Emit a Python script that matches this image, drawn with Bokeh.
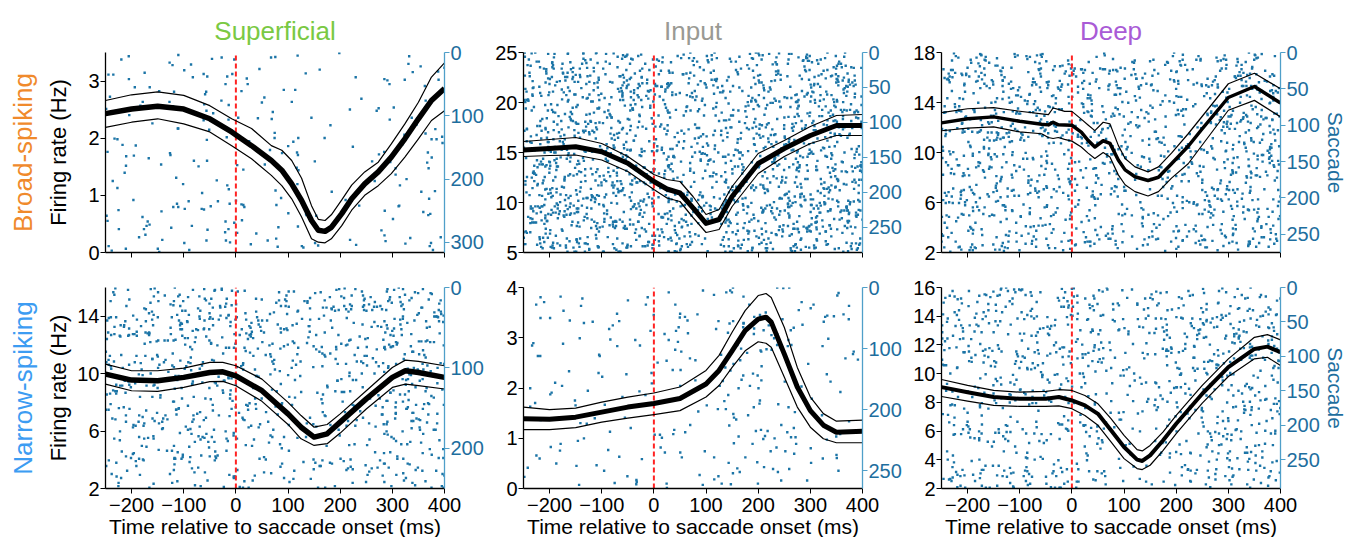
from bokeh.plotting import figure
from bokeh.layouts import column, row
from bokeh.models import Range1d, LinearAxis, FixedTicker, Title
from bokeh.embed import file_html
from bokeh.resources import INLINE

FONT = "Liberation Sans"

# ---------------- data ----------------
col_titles = ["Superficial", "Input", "Deep"]
row_titles = ["Broad-spiking", "Narrow-spiking"]
x_ticks = [-200, -100, 0, 100, 200, 300, 400]
x_label = "Time relative to saccade onset (ms)"
y_label = "Firing rate (Hz)"
trial_label = "Saccade"

# Superficial, broad-spiking
t1 = [-250, -200, -150, -100, -50, -8, 30, 68, 88, 107, 126, 145, 158, 171, 183, 203, 222, 247, 273, 298, 324, 350, 375, 400]
m1 = [2.43, 2.51, 2.56, 2.51, 2.34, 2.11, 1.87, 1.61, 1.44, 1.20, 0.91, 0.56, 0.39, 0.37, 0.44, 0.68, 0.94, 1.20, 1.41, 1.67, 1.99, 2.34, 2.66, 2.87]
u1 = [2.66, 2.76, 2.81, 2.75, 2.57, 2.34, 2.17, 1.87, 1.79, 1.61, 1.30, 0.82, 0.58, 0.56, 0.66, 0.92, 1.18, 1.41, 1.58, 1.90, 2.25, 2.63, 3.07, 3.32]
l1 = [2.19, 2.28, 2.34, 2.25, 2.11, 1.87, 1.64, 1.35, 1.17, 0.94, 0.62, 0.24, 0.18, 0.17, 0.24, 0.47, 0.74, 1.00, 1.17, 1.38, 1.67, 1.99, 2.31, 2.48]

# Input, broad-spiking
t2 = [-250, -200, -150, -100, -50, 0, 25, 50, 75, 100, 125, 150, 200, 250, 300, 350, 400]
m2 = [15.25, 15.41, 15.58, 15.08, 13.93, 12.1, 11.35, 10.95, 9.46, 7.91, 8.3, 10.6, 13.9, 15.4, 16.7, 17.7, 17.7]
u2 = [16.1, 16.3, 16.5, 15.9, 14.6, 12.8, 12.3, 12.1, 10.6, 8.8, 9.3, 11.6, 14.9, 16.2, 17.6, 18.7, 18.8]
l2 = [14.6, 14.7, 14.75, 14.25, 13.1, 11.3, 10.45, 10.1, 8.5, 7.0, 7.3, 9.6, 12.9, 14.6, 15.9, 16.7, 16.7]

# Deep, broad-spiking
t3 = [-250, -200, -150, -100, -58, -45, -36, -26, -14, 0, 18, 31, 44, 60, 73, 89, 102, 121, 146, 166, 191, 223, 250, 300, 350, 400]
m3 = [12.37, 12.7, 12.85, 12.5, 12.26, 12.21, 12.42, 12.21, 12.2, 12.18, 11.63, 10.97, 10.44, 10.94, 10.73, 9.40, 8.61, 8.06, 7.76, 8.02, 9.1, 10.5, 11.9, 14.4, 15.28, 13.96]
u3 = [13.19, 13.5, 13.59, 13.3, 13.09, 13.03, 13.56, 13.45, 13.29, 13.29, 12.67, 12.2, 11.75, 12.42, 12.29, 10.57, 9.52, 8.85, 8.45, 8.85, 9.95, 11.5, 12.9, 15.5, 16.34, 15.1]
l3 = [11.74, 11.95, 12.05, 11.65, 11.5, 11.2, 11.12, 11.2, 11.05, 10.91, 10.44, 9.95, 9.52, 10.0, 9.64, 8.21, 7.42, 6.87, 6.52, 6.87, 7.95, 9.1, 10.6, 13.38, 14.17, 12.85]

# Superficial, narrow-spiking
t4 = [-250, -200, -150, -100, -50, -25, 0, 50, 100, 125, 150, 175, 200, 250, 300, 325, 350, 400]
m4 = [9.97, 9.55, 9.5, 9.74, 10.08, 10.13, 9.85, 8.81, 7.2, 6.27, 5.58, 5.81, 6.62, 8.24, 9.74, 10.2, 10.08, 9.74]
u4 = [10.66, 10.2, 10.2, 10.38, 10.78, 10.78, 10.55, 9.62, 8.0, 7.08, 6.27, 6.46, 7.2, 8.81, 10.43, 10.94, 10.85, 10.55]
l4 = [9.27, 8.81, 8.77, 9.04, 9.44, 9.46, 9.16, 8.07, 6.46, 5.46, 5.0, 5.12, 5.86, 7.54, 9.04, 9.27, 9.16, 8.93]

# Input, narrow-spiking
t5 = [-250, -200, -150, -100, -50, 0, 50, 100, 125, 150, 175, 200, 215, 225, 250, 275, 300, 325, 350, 400]
m5 = [1.39, 1.38, 1.42, 1.52, 1.62, 1.69, 1.79, 2.08, 2.35, 2.74, 3.14, 3.37, 3.41, 3.31, 2.68, 2.02, 1.55, 1.26, 1.12, 1.14]
u5 = [1.62, 1.57, 1.6, 1.72, 1.82, 1.9, 2.02, 2.35, 2.65, 3.11, 3.54, 3.84, 3.88, 3.8, 3.21, 2.41, 1.82, 1.49, 1.34, 1.36]
l5 = [1.17, 1.17, 1.21, 1.32, 1.4, 1.47, 1.55, 1.82, 2.05, 2.41, 2.74, 2.92, 2.89, 2.81, 2.22, 1.62, 1.22, 0.99, 0.91, 0.91]

# Deep, narrow-spiking
t6 = [-250, -200, -150, -100, -50, -25, 0, 25, 50, 75, 100, 125, 135, 150, 175, 200, 250, 300, 350, 375, 400]
m6 = [9.06, 8.71, 8.37, 8.25, 8.25, 8.37, 8.13, 7.79, 7.2, 6.05, 4.89, 4.01, 3.92, 4.31, 5.36, 6.51, 8.6, 10.45, 11.72, 11.88, 11.49]
u6 = [9.59, 9.18, 8.83, 8.71, 8.76, 8.88, 8.83, 8.48, 7.9, 6.86, 5.7, 4.71, 4.62, 5.0, 5.94, 7.09, 9.18, 11.03, 12.53, 12.72, 12.35]
l6 = [8.41, 8.09, 7.79, 7.72, 7.72, 7.75, 7.56, 7.09, 6.4, 5.24, 4.08, 3.39, 3.32, 3.62, 4.66, 5.82, 7.95, 9.8, 11.03, 11.14, 10.56]

# firing-rate axis ranges / ticks
rate_ranges = [(0, 3.5), (5, 25), (2, 18), (2, 16), (0, 4), (2, 16)]
rate_ticks = [[0, 1, 2, 3], [5, 10, 15, 20, 25], [2, 6, 10, 14, 18],
              [2, 6, 10, 14], [0, 1, 2, 3, 4], [2, 4, 6, 8, 10, 12, 14, 16]]
# trial (saccade) axis: number of trials shown, ticks, labels
trial_max = [316, 286, 275, 250, 329, 292]
trial_ticks = [[0, 100, 200, 300], [0, 50, 100, 150, 200, 250], [0, 50, 100, 150, 200, 250],
               [0, 100, 200], [0, 100, 200, 300], [0, 50, 100, 150, 200, 250]]
trial_tick_labels = [["0", "100", "200", "300"], ["0", "50", "100", "150", "200", "250"],
                     ["0", "50", "100", "150", "200", "250"], ["0", "100", "200"],
                     ["0", "100", "200", "250"], ["0", "50", "100", "150", "200", "250"]]

# raster spike counts: 4 trial bands x 13 time bins of 50 ms
raster_counts = [
    [[6, 4, 6, 7, 7, 5, 4, 4, 2, 2, 3, 4, 6],
     [6, 4, 4, 5, 4, 3, 5, 5, 2, 2, 4, 6, 8],
     [5, 3, 5, 5, 4, 3, 4, 4, 2, 1, 5, 4, 6],
     [7, 7, 8, 8, 8, 7, 5, 6, 4, 3, 4, 5, 7]],
    [[38, 40, 38, 36, 36, 32, 30, 28, 28, 34, 36, 38, 40],
     [34, 36, 36, 34, 32, 28, 26, 26, 30, 32, 36, 38, 38],
     [38, 40, 40, 38, 36, 32, 30, 30, 32, 36, 40, 40, 40],
     [44, 44, 42, 42, 40, 36, 34, 34, 36, 42, 44, 44, 44]],
    [[28, 30, 30, 28, 28, 25, 25, 21, 21, 25, 28, 32, 30],
     [30, 30, 30, 28, 28, 25, 23, 21, 18, 25, 30, 34, 32],
     [28, 28, 28, 25, 25, 23, 21, 18, 18, 23, 28, 32, 30],
     [25, 25, 25, 23, 23, 21, 18, 16, 18, 23, 25, 28, 28]],
    [[24, 24, 24, 26, 26, 24, 20, 18, 20, 22, 26, 26, 24],
     [20, 20, 20, 22, 22, 18, 16, 14, 16, 20, 24, 24, 22],
     [18, 18, 20, 20, 18, 16, 12, 10, 12, 16, 20, 22, 20],
     [14, 14, 16, 16, 14, 12, 10, 8, 10, 12, 16, 18, 16]],
    [[4, 4, 4, 4, 5, 6, 6, 8, 10, 10, 6, 6, 5],
     [4, 4, 4, 4, 4, 6, 6, 6, 10, 10, 6, 4, 4],
     [4, 4, 4, 4, 3, 5, 5, 6, 8, 8, 6, 3, 3],
     [4, 4, 5, 5, 4, 4, 5, 6, 8, 8, 5, 4, 3]],
    [[22, 22, 22, 22, 22, 22, 18, 16, 20, 22, 26, 26, 24],
     [20, 20, 20, 20, 20, 20, 16, 14, 18, 22, 26, 26, 24],
     [18, 18, 18, 18, 18, 16, 12, 8, 12, 18, 22, 24, 22],
     [18, 18, 18, 18, 18, 14, 10, 8, 12, 16, 20, 22, 20]],
]

curves = [(t1, m1, u1, l1), (t2, m2, u2, l2), (t3, m3, u3, l3),
          (t4, m4, u4, l4), (t5, m5, u5, l5), (t6, m6, u6, l6)]

# ---------------- styles ----------------
COL_COLORS = ["#7AC943", "#9A9A94", "#A95BD6"]
ROW_COLORS = ["#F08A2C", "#3C9CF2"]
BLUE_TXT = "#1E6E9E"
BLUE_AX = "#4F9FC9"
DOT = "#1B74A6"
MEAN_WIDTHS = [5.5, 5, 3.5, 5.5, 5, 4]


def _frac(a, b, c):
    # deterministic spread of the dots inside one raster cell
    h = (a * 73856093) ^ (b * 19349663) ^ (c * 83492791)
    h = (h * 2654435761) % 4294967296
    h ^= h >> 13
    h = (h * 1274126177) % 4294967296
    return (h % 100000) / 100000.0


def raster_points(grid, ntrials, panel):
    xs, ys = [], []
    nb = len(grid)
    band = ntrials / nb
    for i, counts in enumerate(grid):
        for j, n in enumerate(counts):
            x0 = -250 + 50 * j
            y0 = band * i
            for k in range(n):
                fx = _frac(panel * 131 + i * 17 + 3, j * 29 + 7, 2 * k + 1)
                fy = _frac(panel * 97 + i * 13 + 11, j * 31 + 5, 2 * k + 2)
                xs.append(x0 + fx * 50)
                ys.append(min(ntrials - 1, round(y0 + fy * band)))
    return xs, ys


def make_panel(idx):
    r, c = divmod(idx, 3)
    ylo, yhi = rate_ranges[idx]
    left = 96 if c == 0 else 33
    right = 64 if c == 2 else 46
    top = 52 if r == 0 else 15
    bottom = 20 if r == 0 else 48
    p = figure(frame_width=339, frame_height=200 if r == 0 else 201,
               x_range=Range1d(-250, 400), y_range=Range1d(ylo, yhi),
               output_backend="svg", toolbar_location=None,
               title=col_titles[c] if r == 0 else None,
               min_border_left=left, min_border_right=right,
               min_border_top=top, min_border_bottom=bottom)
    p.outline_line_color = None
    p.grid.visible = False
    p.background_fill_color = "white"
    p.border_fill_color = "white"

    if r == 0:
        p.title.align = "center"
        p.title.text_font = FONT
        p.title.text_font_size = "26px"
        p.title.text_font_style = "normal"
        p.title.text_color = COL_COLORS[c]
        p.title.standoff = 14

    p.extra_y_ranges = {"trials": Range1d(start=trial_max[idx], end=0)}

    # raster
    xs, ys = raster_points(raster_counts[idx], trial_max[idx], idx)
    p.scatter(xs, ys, y_range_name="trials", marker="square", size=2.4,
              fill_color=DOT, line_color=None)

    # saccade onset line
    p.line([0, 0], [ylo, yhi], line_color="#FF2222", line_width=2, line_dash="5 3")

    t, m, u, l = curves[idx]
    p.line(t, u, line_color="black", line_width=1.2, line_join="round")
    p.line(t, l, line_color="black", line_width=1.2, line_join="round")
    p.line(t, m, line_color="black", line_width=MEAN_WIDTHS[idx], line_join="round")

    # x axis
    xa = p.xaxis[0]
    xa.ticker = FixedTicker(ticks=x_ticks)
    xa.axis_line_color = "black"
    xa.axis_line_width = 1.3
    xa.major_tick_line_color = "black"
    xa.major_tick_out = 5
    xa.major_tick_in = 0
    xa.minor_tick_line_color = None
    xa.major_label_text_font = FONT
    xa.major_label_text_color = "black"
    if r == 0:
        xa.major_label_standoff = 1
        xa.major_label_overrides = {tk: "" for tk in x_ticks}
        xa.major_label_text_font_size = "1px"
    else:
        xa.major_label_standoff = 4
        xa.major_label_text_font_size = "20px"
        xa.axis_label = x_label
        xa.axis_label_text_font = FONT
        xa.axis_label_text_font_size = "21px"
        xa.axis_label_text_font_style = "normal"
        xa.axis_label_text_color = "black"
        xa.axis_label_standoff = 0

    # left axis
    ya = p.yaxis[0]
    ya.ticker = FixedTicker(ticks=rate_ticks[idx])
    ya.axis_line_color = "black"
    ya.axis_line_width = 1.3
    ya.major_tick_line_color = "black"
    ya.major_tick_out = 5
    ya.major_tick_in = 0
    ya.minor_tick_line_color = None
    ya.major_label_standoff = 1
    ya.major_label_text_font = FONT
    ya.major_label_text_font_size = "20px"
    ya.major_label_text_color = "black"
    if c == 0:
        ya.axis_label = y_label
        ya.axis_label_text_font = FONT
        ya.axis_label_text_font_size = "22px"
        ya.axis_label_text_font_style = "normal"
        ya.axis_label_text_color = "black"
        ya.axis_label_standoff = 14 if r == 0 else 3

    # right (trial) axis
    ra = LinearAxis(y_range_name="trials",
                    ticker=FixedTicker(ticks=trial_ticks[idx]))
    ra.major_label_overrides = {tk: lab for tk, lab in zip(trial_ticks[idx], trial_tick_labels[idx])}
    ra.axis_line_color = BLUE_AX
    ra.axis_line_width = 1.3
    ra.major_tick_line_color = BLUE_AX
    ra.major_tick_out = 5
    ra.major_tick_in = 0
    ra.minor_tick_line_color = None
    ra.major_label_standoff = 1
    ra.major_label_text_font = FONT
    ra.major_label_text_font_size = "20px"
    ra.major_label_text_color = BLUE_TXT
    if c == 2:
        ra.axis_label = trial_label
        ra.axis_label_text_font = FONT
        ra.axis_label_text_font_size = "21px"
        ra.axis_label_text_font_style = "normal"
        ra.axis_label_text_color = BLUE_TXT
        ra.axis_label_standoff = 1
    p.add_layout(ra, "right")

    if c == 0:
        p.add_layout(Title(text=row_titles[r], text_font=FONT, text_font_size="26px",
                           text_font_style="normal", text_color=ROW_COLORS[r],
                           align="center", standoff=11), "left")
    return p


panels = [make_panel(i) for i in range(6)]
layout = column(row(*panels[:3]), row(*panels[3:]))

open("out.html", "w").write(file_html(layout, INLINE))
